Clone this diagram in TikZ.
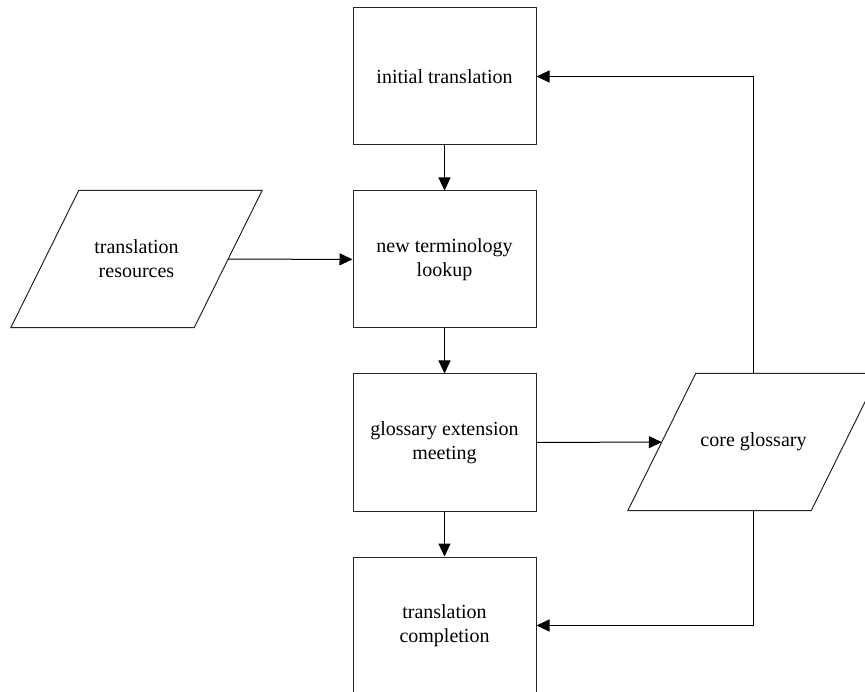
\documentclass[tikz,border=0pt]{standalone}
\usepackage{fontspec}
\setmainfont{Liberation Serif}
\usetikzlibrary{arrows.meta}
\begin{document}
\begin{tikzpicture}[x=1pt,y=-1pt,
  every node/.style={font=\fontsize{20}{24}\selectfont, align=center, text=black},
  procbox/.style={draw=black!85, line width=1pt, rectangle, minimum width=183pt, minimum height=137pt, inner sep=0pt},
  iobox/.style={rectangle, minimum width=183pt, minimum height=137pt, inner sep=0pt},
  ioline/.style={draw=black!85, line width=1pt, line join=miter},
  arr/.style={draw=black, line width=1pt, -{Triangle[length=13pt,width=12pt]}}]
\useasboundingbox (0,0) rectangle (865,692);
\node[procbox] (b1) at (444.5,76.5) {initial translation};
\node[procbox] (b2) at (444.5,259.5) {new terminology\\lookup};
\node[procbox] (b3) at (444.5,442.5) {glossary extension\\meeting};
\node[procbox] (b4) at (444.5,625.5) {translation\\completion};
\node[iobox] (tr) at (136.5,259) {translation\\resources};
\node[iobox] (cg) at (753.5,442) {core glossary};
\foreach \n in {tr,cg}{
  \draw[ioline] ([xshift=34pt]\n.north west) -- ([xshift=34pt]\n.north east)
    -- ([xshift=-34pt]\n.south east) -- ([xshift=-34pt]\n.south west) -- cycle;
}
\draw[arr] (b1) -- (b2);
\draw[arr] (b2) -- (b3);
\draw[arr] (b3) -- (b4);
\draw[arr] (tr) -- (b2);
\draw[arr] (b3) -- (cg);
\draw[arr] (cg.north) |- (b1.east);
\draw[arr] (cg.south) |- (b4.east);
\end{tikzpicture}
\end{document}
